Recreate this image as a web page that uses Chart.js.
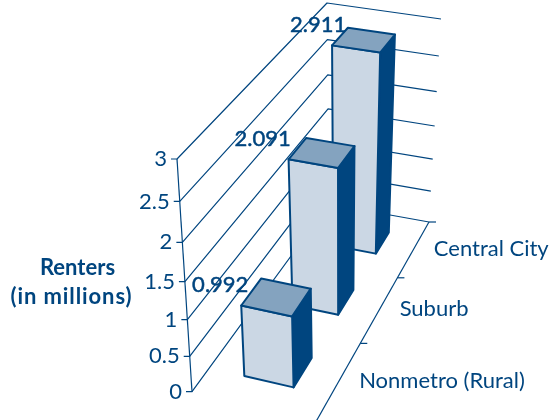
<!DOCTYPE html>
<html>
<head>
<meta charset="utf-8">
<style>html,body{margin:0;padding:0;background:#fff}canvas{display:block}</style>
<script src="https://cdn.jsdelivr.net/npm/chart.js@4"></script>
</head>
<body>
<canvas id="c" width="551" height="420"></canvas>
<script>
const categories = ['Nonmetro (Rural)', 'Suburb', 'Central City'];
const renters = [0.992, 2.091, 2.911];
const valueTitle = ['Renters', '(in millions)'];

const INK = '#00457f', FRONT = '#cbd7e4', TOP = '#84a3bf';
const FONT = 'Lato, "Open Sans", sans-serif';

/* camera: floor and ceiling quads of the plot box [front-left, front-right, back-right, back-left] */
const FLOOR = [[192,391.7],[316,421.6],[429,222],[329,204]];
const CEIL  = [[177,159],[314,184],[441,19],[327,3]];
const PERSPECTIVE = 0.115;
const BAR_SPAN = [0.295, 0.702];
const LABEL_SHIFT = [-21, -26, -14];

function quadMap(q){
  const [[x0,y0],[x1,y1],[x2,y2],[x3,y3]] = q;
  const dx1=x1-x2, dx2=x3-x2, sx=x0-x1+x2-x3, dy1=y1-y2, dy2=y3-y2, sy=y0-y1+y2-y3;
  const den=dx1*dy2-dx2*dy1;
  const g=(sx*dy2-dx2*sy)/den, h=(dx1*sy-sx*dy1)/den;
  const a=x1-x0+g*x1, b=x3-x0+h*x3, d=y1-y0+g*y1, e=y3-y0+h*y3;
  return (u,v)=>{const w=g*u+h*v+1;return [(a*u+b*v+x0)/w,(d*u+e*v+y0)/w];};
}
const floorAt = quadMap(FLOOR), ceilAt = quadMap(CEIL);
/* h = fraction of the value axis, 0..1 */
function project(u,v,h){
  const t = h/(1+PERSPECTIVE*(1-h));
  const f=floorAt(u,v), c=ceilAt(u,v);
  return [f[0]+(c[0]-f[0])*t, f[1]+(c[1]-f[1])*t];
}
function poly(ctx,pts,fill,stroke,lw){
  ctx.beginPath();
  pts.forEach((p,i)=>i?ctx.lineTo(p[0],p[1]):ctx.moveTo(p[0],p[1]));
  if(fill){ctx.closePath();ctx.fillStyle=fill;ctx.fill();}
  if(stroke){ctx.strokeStyle=stroke;ctx.lineWidth=lw;ctx.lineJoin='round';ctx.stroke();}
}
function line(ctx,a,b,lw){poly(ctx,[a,b],null,INK,lw||1.2);}
function fracs(chart){
  const A=chart.chartArea;
  return {depth:px=>(px-A.left)/A.width, height:py=>(A.bottom-py)/A.height};
}

class Box3DController extends Chart.BarController{
  draw(){
    const chart=this.chart, ctx=chart.ctx, F=fracs(chart);
    const bars=this.getMeta().data.slice().reverse();
    const [u0,u1]=BAR_SPAN;
    bars.forEach(bar=>{
      const vm=F.depth(bar.x), hd=bar.width/chart.chartArea.width/2;
      const v0=vm-hd, v1=vm+hd, h=F.height(bar.y), b=F.height(bar.base);
      const P=(u,v,k)=>project(u,v,k);
      poly(ctx,[P(u1,v0,b),P(u1,v1,b),P(u1,v1,h),P(u1,v0,h)],INK,INK,2);
      poly(ctx,[P(u0,v0,b),P(u1,v0,b),P(u1,v0,h),P(u0,v0,h)],FRONT,INK,2);
      poly(ctx,[P(u0,v0,h),P(u1,v0,h),P(u1,v1,h),P(u0,v1,h)],TOP,INK,2);
    });
  }
}
Box3DController.id='box3d';
Box3DController.defaults=Chart.BarController.defaults;
Chart.register(Box3DController);

const box3dAxes={
  id:'box3dAxes',
  beforeDatasetsDraw(chart){
    const ctx=chart.ctx, F=fracs(chart), ys=chart.scales.y, xs=chart.scales.x;
    ctx.save();
    line(ctx,project(0,0,0),project(0,0,1));
    ctx.font='22px '+FONT; ctx.fillStyle=INK; ctx.textAlign='right'; ctx.textBaseline='middle';
    ys.ticks.forEach(t=>{
      const h=F.height(ys.getPixelForValue(t.value));
      const a=project(0,0,h), b=project(0,1,h), c=project(1,1,h);
      poly(ctx,[[a[0]-6,a[1]],a,b,c],null,INK,1.2);
      ctx.fillText(String(t.value),a[0]-10,a[1]);
    });
    line(ctx,project(1,1,0),project(1,0,0));
    const w=xs.getPixelForValue(1)-xs.getPixelForValue(0);
    categories.forEach((name,i)=>{
      const edge=project(1,F.depth(xs.getPixelForValue(i)+w/2),0);
      line(ctx,edge,[edge[0]+7,edge[1]]);
    });
    ctx.restore();
  },
  afterDatasetsDraw(chart){
    const ctx=chart.ctx, F=fracs(chart), ys=chart.scales.y, xs=chart.scales.x;
    const meta=chart.getDatasetMeta(0);
    const hd=meta.data[0].width/chart.chartArea.width/2;
    ctx.save();
    ctx.fillStyle=INK; ctx.strokeStyle=INK; ctx.lineWidth=0.5;
    ctx.font='22px '+FONT; ctx.textAlign='center'; ctx.textBaseline='middle';
    renters.forEach((val,i)=>{
      const p=project(BAR_SPAN[0],F.depth(xs.getPixelForValue(i))-hd,F.height(ys.getPixelForValue(val)));
      ctx.fillText(val.toFixed(3),p[0]+LABEL_SHIFT[i],p[1]-20.5);
      ctx.strokeText(val.toFixed(3),p[0]+LABEL_SHIFT[i],p[1]-20.5);
    });
    ctx.font='22px '+FONT; ctx.textAlign='left';
    categories.forEach((name,i)=>{
      const p=project(1,F.depth(xs.getPixelForValue(i)),0);
      ctx.fillText(name,p[0]+20,p[1]);
    });
    ctx.font='bold 22px '+FONT; ctx.textAlign='center';
    ctx.letterSpacing='0px';
    ctx.fillText(valueTitle[0],77.5,267.5);
    ctx.letterSpacing='0.9px';
    ctx.fillText(valueTitle[1],71.5,297);
    ctx.restore();
  }
};

new Chart(document.getElementById('c'),{
  type:'box3d',
  data:{labels:categories,datasets:[{label:'Renters (in millions)',data:renters,clip:false,
    categoryPercentage:1,barPercentage:0.385,backgroundColor:FRONT,borderColor:INK}]},
  options:{
    responsive:false,animation:false,devicePixelRatio:1,
    layout:{padding:0},
    plugins:{legend:{display:false},title:{display:false},tooltip:{enabled:false}},
    scales:{
      x:{type:'category',offset:true,display:false},
      y:{type:'linear',min:0,max:3,display:false,ticks:{stepSize:0.5}}
    }
  },
  plugins:[box3dAxes]
});
</script>
</body>
</html>
